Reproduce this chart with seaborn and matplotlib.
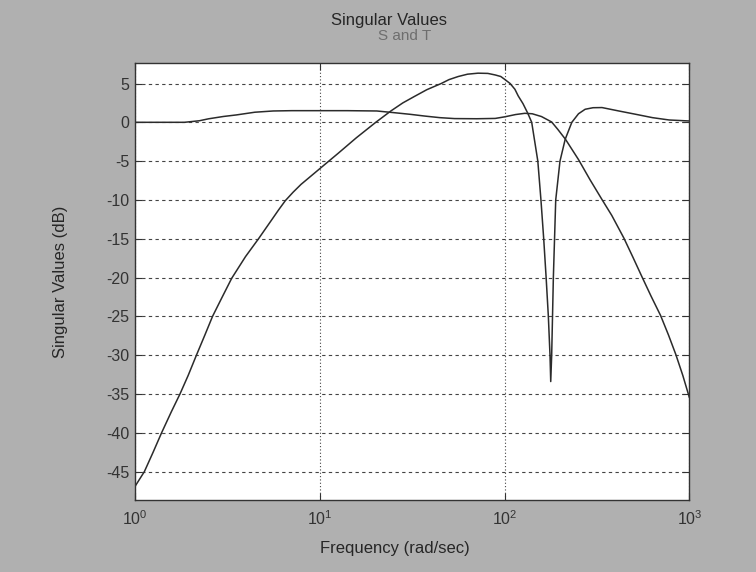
import numpy as np
import pandas as pd
import matplotlib
matplotlib.use("Agg")
import matplotlib.pyplot as plt
import seaborn as sns

# Singular value of the sensitivity S (rad/sec, dB)
s_freq = [1.0, 1.13, 1.26, 1.40, 1.58, 1.76, 1.95, 2.16, 2.40, 2.64, 2.95, 3.35,
          3.98, 4.68, 5.50, 6.00, 6.53, 7.20, 7.94, 10.0, 12.6, 15.8, 20.14, 24.3,
          28.2, 32.4, 38.0, 45.5, 50.1, 56.2, 63.1, 71.9, 81.3, 89.1, 95.5, 100.0,
          107.2, 113.8, 118.6, 125.9, 133.4, 140.3, 151.4, 157.4, 162.9, 167.9, 172.6,
          176.2, 177.8, 179.9, 183.7, 189.2, 199.5, 212.8, 231.2, 251.2, 272.9, 301.0,
          336.5, 415.0, 512.9, 631.0, 776.2, 1000.0]
s_db = [-47.0, -45.0, -42.5, -40.0, -37.3, -35.0, -32.6, -30.0, -27.4, -25.0, -22.7,
        -20.1, -17.3, -15.0, -12.6, -11.3, -10.1, -9.0, -8.0, -6.0, -4.0, -2.0, 0.0,
        1.46, 2.5, 3.3, 4.2, 5.0, 5.5, 5.9, 6.2, 6.33, 6.3, 6.1, 5.9, 5.55, 5.0, 4.26,
        3.4, 2.4, 1.2, 0.0, -5.0, -10.0, -15.0, -20.0, -25.0, -30.0, -33.4, -30.0,
        -20.0, -10.0, -5.0, -2.2, 0.0, 1.1, 1.68, 1.88, 1.9, 1.46, 1.03, 0.6, 0.3, 0.17]

# Singular value of the complementary sensitivity T (rad/sec, dB)
t_freq = [1.0, 1.86, 2.24, 2.51, 3.02, 3.55, 4.47, 5.62, 7.08, 10.0, 14.1, 20.4,
          25.1, 30.9, 37.2, 44.7, 53.7, 70.8, 89.1, 100.0, 114.8, 128.8, 141.3, 158.5,
          179.9, 194.0, 213.8, 251.2, 290.0, 336.5, 380.2, 441.6, 495.0, 555.9, 620.0,
          698.2, 770.0, 843.3, 920.0, 1000.0]
t_db = [0.0, 0.0, 0.2, 0.45, 0.75, 0.95, 1.3, 1.46, 1.5, 1.5, 1.5, 1.46, 1.25,
        1.03, 0.8, 0.6, 0.48, 0.46, 0.5, 0.7, 1.0, 1.16, 1.1, 0.74, 0.04, -0.9, -2.2,
        -4.8, -7.4, -9.95, -12.0, -14.9, -17.4, -20.0, -22.4, -24.9, -27.4, -29.9,
        -32.6, -35.5]

y_ticks = [5, 0, -5, -10, -15, -20, -25, -30, -35, -40, -45]
x_ticks = [1, 10, 100, 1000]
x_tick_labels = [r"$10^{0}$", r"$10^{1}$", r"$10^{2}$", r"$10^{3}$"]

df = pd.concat([
    pd.DataFrame({"freq": s_freq, "dB": s_db, "curve": "S"}),
    pd.DataFrame({"freq": t_freq, "dB": t_db, "curve": "T"}),
], ignore_index=True)

sns.set_theme(style="ticks")
plt.rcParams["font.family"] = ["Liberation Sans", "DejaVu Sans"]
plt.rcParams["mathtext.default"] = "regular"

bg = "#b0b0b0"
ink = "#2b2b2b"

fig = plt.figure(figsize=(7.56, 5.72), dpi=100, facecolor=bg)
ax = fig.add_axes([0.178, 0.1267, 0.734, 0.7626])
ax.set_facecolor("white")

sns.lineplot(data=df, x="freq", y="dB", hue="curve", palette=[ink, ink],
             estimator=None, sort=False, legend=False, linewidth=1.1, ax=ax)

ax.set_xscale("log")
ax.set_xlim(1, 1000)
ax.set_ylim(-48.6, 7.6)
ax.set_xticks(x_ticks)
ax.set_xticklabels(x_tick_labels)
ax.xaxis.set_minor_locator(matplotlib.ticker.NullLocator())
ax.set_yticks(y_ticks)
ax.set_yticklabels([str(v) for v in y_ticks])

ax.yaxis.grid(True, linestyle=(0, (3, 3)), color="#444444", linewidth=0.8)
ax.xaxis.grid(True, linestyle=(0, (1, 2)), color="#444444", linewidth=0.8)

ax.tick_params(direction="in", top=True, right=True, length=5, width=0.8,
               color="#333333", labelsize=11.5, labelcolor="#333333")
ax.tick_params(axis="y", pad=4)
ax.tick_params(axis="x", pad=7)
for sp in ax.spines.values():
    sp.set_color("#333333")
    sp.set_linewidth(1.0)

ax.set_xlabel("")
ax.set_ylabel("")

fig.text(389 / 756, 1 - 25 / 572, "Singular Values", ha="center", va="baseline",
         fontsize=12, color="#262626")
fig.text(405 / 756, 1 - 40 / 572, "S and T", ha="center", va="baseline",
         fontsize=11, color="#6e6e6e")
fig.text(395 / 756, 1 - 553 / 572, "Frequency (rad/sec)", ha="center", va="baseline",
         fontsize=12, color="#262626")
fig.text(61 / 756, 1 - 282 / 572, "Singular Values (dB)", ha="center", va="center",
         rotation=90, fontsize=12, color="#262626")

fig.savefig("out.png", dpi=100, facecolor=bg)
